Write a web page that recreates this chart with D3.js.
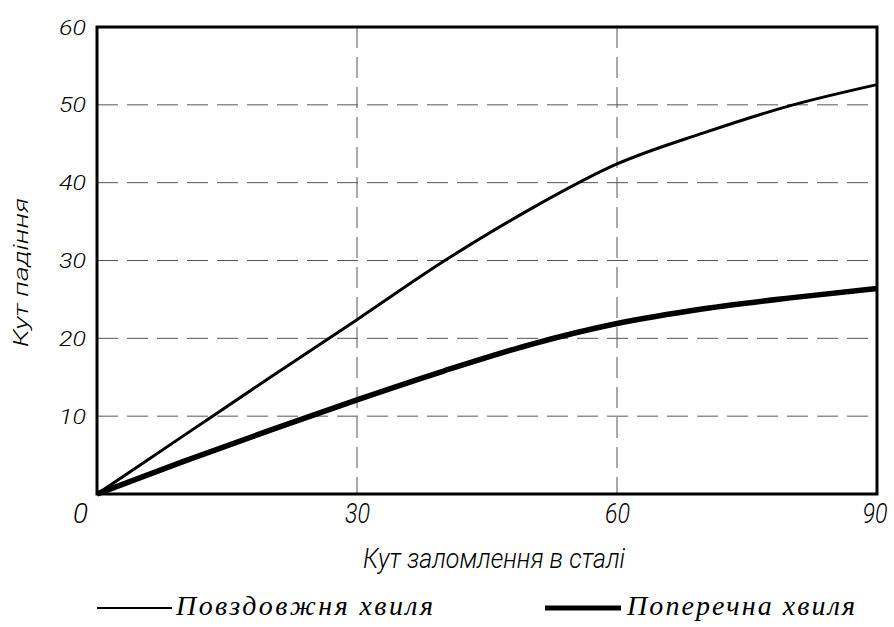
<!DOCTYPE html>
<html>
<head>
<meta charset="utf-8">
<script src="https://cdn.jsdelivr.net/npm/d3@7"></script>
<style>
  html, body { margin: 0; padding: 0; background: #fff; }
  svg { display: block; }
  .tick-lbl, .ax-title { font-family: Roboto, "Open Sans", sans-serif; font-weight: 300; font-style: italic; fill: #000; }
  .leg { font-family: "Liberation Serif", "Times New Roman", serif; font-style: italic; fill: #000; }
</style>
</head>
<body>
<script>
const refractionAngles = [0, 10, 20, 30, 40, 50, 60, 70, 80, 90];
const longitudinalIncidence = [0, 7.5, 15, 22.4, 29.9, 36.6, 42.4, 46.4, 49.9, 52.6];
const transverseIncidence = [0, 4.2, 8.2, 12.1, 15.8, 19.2, 21.9, 23.8, 25.2, 26.4];
const xTicks = [0, 30, 60, 90];
const yTicks = [0, 10, 20, 30, 40, 50, 60];
const seriesNames = ["Повздовжня хвиля", "Поперечна хвиля"];
const xTitle = "Кут заломлення в сталі";
const yTitle = "Кут падіння";

const W = 894, H = 627;
const m = { left: 97, right: 17, top: 27, bottom: 133 };
const svg = d3.select("body").append("svg").attr("width", W).attr("height", H);

const x = d3.scaleLinear().domain([0, 90]).range([m.left, W - m.right]);
const y = d3.scaleLinear().domain([0, 60]).range([H - m.bottom, m.top]);

// grid
svg.append("g").selectAll("line").data(yTicks.filter(v => v > 0 && v < 60)).join("line")
  .attr("x1", x(0)).attr("x2", x(90)).attr("y1", d => y(d)).attr("y2", d => y(d))
  .attr("stroke", "#555").attr("stroke-width", 1).attr("stroke-dasharray", "21,9");
svg.append("g").selectAll("line").data(xTicks.filter(v => v > 0 && v < 90)).join("line")
  .attr("y1", y(60)).attr("y2", y(0)).attr("x1", d => x(d)).attr("x2", d => x(d))
  .attr("stroke", "#555").attr("stroke-width", 1).attr("stroke-dasharray", "21,9");

// lines
const line = (vals) => d3.line().x((d, i) => x(refractionAngles[i])).y(d => y(d)).curve(d3.curveMonotoneX)(vals);
svg.append("path").attr("d", line(longitudinalIncidence)).attr("fill", "none").attr("stroke", "#000").attr("stroke-width", 3);
svg.append("path").attr("d", line(transverseIncidence)).attr("fill", "none").attr("stroke", "#000").attr("stroke-width", 5.5);

// frame
svg.append("rect").attr("x", x(0)).attr("y", y(60)).attr("width", x(90) - x(0)).attr("height", y(0) - y(60))
  .attr("fill", "none").attr("stroke", "#000").attr("stroke-width", 3);

// tick labels
svg.append("g").selectAll("text").data(yTicks.filter(v => v > 0)).join("text")
  .attr("class", "tick-lbl").attr("x", x(0) - 11).attr("y", d => y(d) + 7.5)
  .attr("text-anchor", "end").attr("font-size", 21)
  .attr("textLength", 27).attr("lengthAdjust", "spacingAndGlyphs").text(d => d);
svg.append("g").selectAll("text").data(xTicks).join("text")
  .attr("class", "tick-lbl").attr("x", d => d === 0 ? x(d) - 16.5 : x(d) + (d === 90 ? -2 : 0.5)).attr("y", y(0) + 29)
  .attr("text-anchor", "middle").attr("font-size", 28)
  .attr("textLength", d => d === 0 ? 15 : 25).attr("lengthAdjust", "spacingAndGlyphs").text(d => d);

// axis titles
svg.append("text").attr("class", "ax-title").attr("x", 494).attr("y", 568)
  .attr("text-anchor", "middle").attr("font-size", 27)
  .attr("textLength", 262).attr("lengthAdjust", "spacingAndGlyphs").text(xTitle);
svg.append("text").attr("class", "ax-title").attr("transform", "translate(28,272.5) rotate(-90)")
  .attr("text-anchor", "middle").attr("font-size", 21)
  .attr("textLength", 149).attr("lengthAdjust", "spacingAndGlyphs").text(yTitle);

// legend
const legY = 608;
svg.append("line").attr("x1", 97).attr("x2", 172).attr("y1", legY).attr("y2", legY).attr("stroke", "#000").attr("stroke-width", 2);
svg.append("text").attr("class", "leg").attr("x", 176).attr("y", 615).attr("font-size", 28)
  .attr("textLength", 257).text(seriesNames[0]);
svg.append("line").attr("x1", 545).attr("x2", 621).attr("y1", legY).attr("y2", legY).attr("stroke", "#000").attr("stroke-width", 5);
svg.append("text").attr("class", "leg").attr("x", 627).attr("y", 615).attr("font-size", 28)
  .attr("textLength", 228).text(seriesNames[1]);
</script>
</body>
</html>
